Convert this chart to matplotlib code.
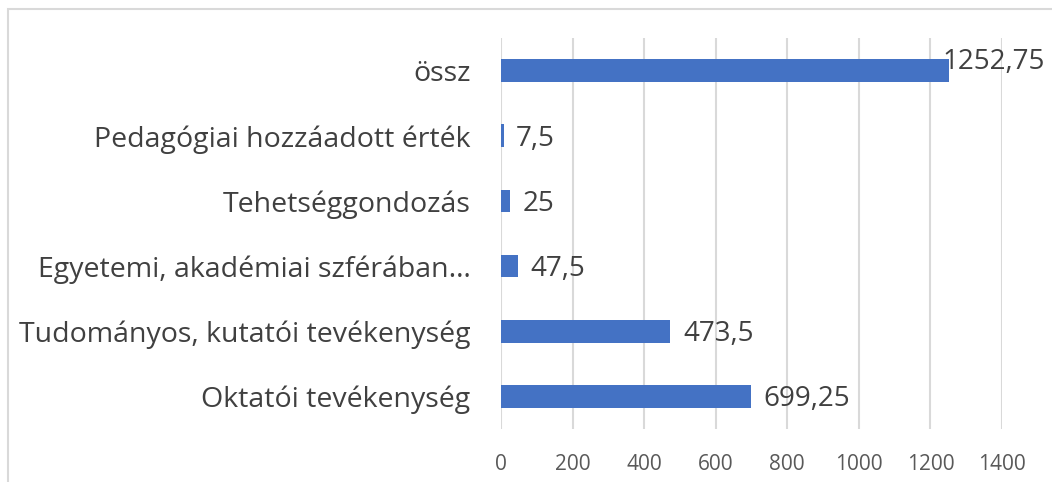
import matplotlib
matplotlib.use("Agg")
import matplotlib.pyplot as plt
from matplotlib.patches import Rectangle

categories = ["Oktatói tevékenység", "Tudományos, kutatói tevékenység",
              "Egyetemi, akadémiai szférában…", "Tehetséggondozás",
              "Pedagógiai hozzáadott érték", "össz"]
values = [699.25, 473.5, 47.5, 25, 7.5, 1252.75]
value_labels = ["699,25", "473,5", "47,5", "25", "7,5", "1252,75"]
xticks = [0, 200, 400, 600, 800, 1000, 1200, 1400]

plt.rcParams['font.family'] = ['Open Sans', 'DejaVu Sans']

fig = plt.figure(figsize=(10.52, 4.82), dpi=100)
ax = fig.add_axes([501/1052, 1 - 429/482, (1002 - 501)/1052, (429 - 38)/482])

ypos = list(range(len(categories)))
ax.barh(ypos, values, height=0.35, color="#4472C4", zorder=3)

ax.set_xlim(0, 1400)
ax.set_ylim(-0.5, len(categories) - 0.5)
ax.set_xticks(xticks)
ax.set_xticklabels([str(t) for t in xticks], fontsize=15, color="#595959")
ax.set_yticks(ypos)
ax.set_yticklabels(categories, fontsize=20.5, color="#404040")
ax.tick_params(axis='x', length=0, pad=18)
ax.tick_params(axis='y', length=0, pad=22)
ax.grid(axis='x', color="#D9D9D9", linewidth=1.5, zorder=0)
for s in ax.spines.values():
    s.set_visible(False)

for i, (v, lab) in enumerate(zip(values, value_labels)):
    if i == len(values) - 1:
        ax.annotate(lab, xy=(v, i), xytext=(-5, 6), textcoords="offset points",
                    ha="left", va="center", fontsize=20, color="#404040", zorder=4)
    else:
        ax.annotate(lab, xy=(v, i), xytext=(9, -2), textcoords="offset points",
                    ha="left", va="center", fontsize=20, color="#404040", zorder=4)

fig.patches.append(Rectangle((8/1052, -0.1), 1.2, 1 - 9/482 + 0.1,
                             transform=fig.transFigure, fill=False,
                             edgecolor="#D9D9D9", linewidth=1.5))

fig.savefig("out.png", dpi=100)
